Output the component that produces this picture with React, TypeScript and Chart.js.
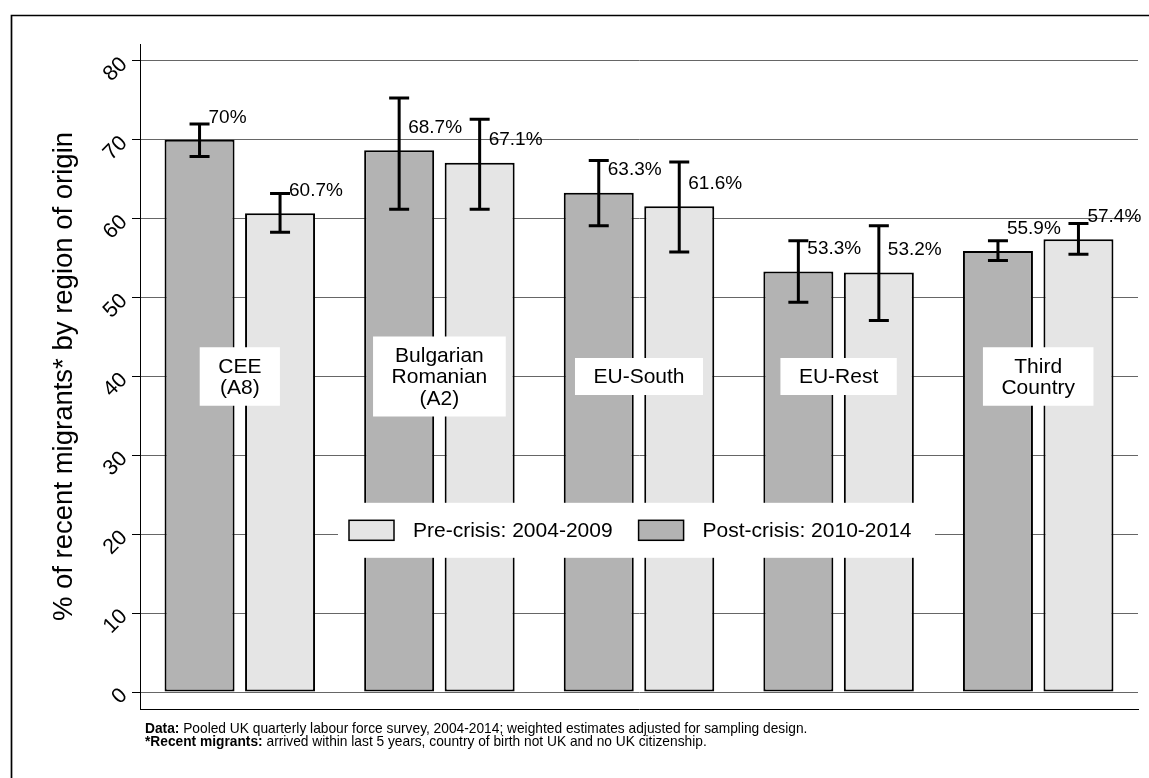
import React, { useEffect, useRef } from "react";
import { Chart, registerables } from "chart.js";

Chart.register(...registerables);

const FONT = '"Liberation Sans", Arial, Helvetica, sans-serif';

// ---- data ----
const categories = ["CEE (A8)", "Bulgarian Romanian (A2)", "EU-South", "EU-Rest", "Third Country"];
const categoryLines = [["CEE", "(A8)"], ["Bulgarian", "Romanian", "(A2)"], ["EU-South"], ["EU-Rest"], ["Third", "Country"]];

const postLabel = "Post-crisis: 2010-2014";
const postCrisis = [70, 68.7, 63.3, 53.3, 55.9];
const postLow = [67.9, 61.2, 59.1, 49.4, 54.7];
const postHigh = [72.0, 75.3, 67.4, 57.2, 57.2];

const preLabel = "Pre-crisis: 2004-2009";
const preCrisis = [60.7, 67.1, 61.6, 53.2, 57.4];
const preLow = [58.3, 61.2, 55.8, 47.1, 55.5];
const preHigh = [63.2, 72.6, 67.2, 59.1, 59.4];

const yTicks = [0, 10, 20, 30, 40, 50, 60, 70, 80];
const axisTitle = "% of recent migrants* by region of origin";
const footnotes = [
  ["Data:", " Pooled UK quarterly labour force survey, 2004-2014; weighted estimates adjusted for sampling design."],
  ["*Recent migrants:", " arrived within last 5 years, country of birth not UK and no UK citizenship."],
];

const DARK = "#b3b3b3";
const LIGHT = "#e5e5e5";

const overlayPlugin = {
  id: "overlay",
  beforeDraw(chart: any) {
    const ctx = chart.ctx;
    ctx.save();
    ctx.fillStyle = "#fff";
    ctx.fillRect(0, 0, chart.width, chart.height);
    ctx.restore();
  },
  afterDatasetsDraw(chart: any) {
    const ctx = chart.ctx;
    const xs = chart.scales.x;
    const ys = chart.scales.y;
    const area = chart.chartArea;
    const errs = [
      [postLow, postHigh],
      [preLow, preHigh],
    ];
    ctx.save();
    // error bars + value labels
    chart.data.datasets.forEach((ds: any, di: number) => {
      const meta = chart.getDatasetMeta(di);
      meta.data.forEach((bar: any, i: number) => {
        const cx = bar.x;
        const yl = ys.getPixelForValue(errs[di][0][i]);
        const yh = ys.getPixelForValue(errs[di][1][i]);
        ctx.strokeStyle = "#000";
        ctx.lineWidth = 3;
        ctx.lineCap = "butt";
        ctx.beginPath();
        ctx.moveTo(cx, yl);
        ctx.lineTo(cx, yh);
        ctx.moveTo(cx - 10, yl);
        ctx.lineTo(cx + 10, yl);
        ctx.moveTo(cx - 10, yh);
        ctx.lineTo(cx + 10, yh);
        ctx.stroke();
        ctx.font = `19px ${FONT}`;
        ctx.fillStyle = "#000";
        ctx.textAlign = "left";
        ctx.textBaseline = "middle";
        ctx.fillText(`${ds.data[i]}%`, cx + 9, bar.y - 22.5);
      });
    });

    // category label boxes
    ctx.font = `21px ${FONT}`;
    categoryLines.forEach((lines, i) => {
      const cx = xs.getPixelForValue(i);
      const cy = ys.getPixelForValue(40);
      const lh = 21.5;
      const w = Math.max(...lines.map((l) => ctx.measureText(l).width)) + 37;
      const h = lines.length * lh + 15.5;
      ctx.fillStyle = "#fff";
      ctx.fillRect(cx - w / 2, cy - h / 2, w, h);
      ctx.fillStyle = "#000";
      ctx.textAlign = "center";
      ctx.textBaseline = "middle";
      lines.forEach((l, k) => ctx.fillText(l, cx, cy - ((lines.length - 1) * lh) / 2 + k * lh + 1));
    });

    // legend
    const lcx = (area.left + area.right) / 2 - 2.5;
    const lcy = ys.getPixelForValue(20.5);
    const bw = 597;
    const bh = 55;
    ctx.fillStyle = "#fff";
    ctx.fillRect(lcx - bw / 2, lcy - bh / 2, bw, bh);
    let px = lcx - bw / 2 + 11;
    ctx.font = `21px ${FONT}`;
    [1, 0].forEach((di) => {
      const ds = chart.data.datasets[di];
      ctx.fillStyle = ds.backgroundColor;
      ctx.fillRect(px, lcy - 10, 45, 20);
      ctx.strokeStyle = "#000";
      ctx.lineWidth = 1.5;
      ctx.strokeRect(px, lcy - 10, 45, 20);
      px += 45 + 19;
      ctx.fillStyle = "#000";
      ctx.textAlign = "left";
      ctx.textBaseline = "middle";
      ctx.fillText(ds.label, px, lcy + 1);
      px += ctx.measureText(ds.label).width + 26;
    });
    ctx.restore();
  },
  afterDraw(chart: any) {
    const ctx = chart.ctx;
    ctx.save();
    // footnotes
    ctx.textAlign = "left";
    ctx.textBaseline = "middle";
    ctx.fillStyle = "#000";
    footnotes.forEach(([b, rest], k) => {
      const y = 729 + k * 13;
      ctx.font = `bold 13.75px ${FONT}`;
      ctx.fillText(b, 145, y);
      const w = ctx.measureText(b).width;
      ctx.font = `13.75px ${FONT}`;
      ctx.fillText(rest, 145 + w, y);
    });
    // outer frame (cropped on right and bottom)
    ctx.strokeStyle = "#000";
    ctx.lineWidth = 1.7;
    ctx.beginPath();
    ctx.moveTo(11.5, chart.height + 10);
    ctx.lineTo(11.5, 15.5);
    ctx.lineTo(chart.width + 10, 15.5);
    ctx.stroke();
    ctx.restore();
  },
};

export default function App() {
  const canvasRef = useRef<HTMLCanvasElement | null>(null);

  useEffect(() => {
    const canvas = canvasRef.current;
    if (!canvas) return;
    const chart = new Chart(canvas, {
      type: "bar",
      data: {
        labels: categories,
        datasets: [
          {
            label: postLabel,
            data: postCrisis,
            backgroundColor: DARK,
            borderColor: "#000",
            borderWidth: 2,
            borderSkipped: false,
          },
          {
            label: preLabel,
            data: preCrisis,
            backgroundColor: LIGHT,
            borderColor: "#000",
            borderWidth: 2,
            borderSkipped: false,
          },
        ],
      },
      options: {
        animation: false,
        responsive: false,
        maintainAspectRatio: false,
        events: [],
        layout: { padding: { top: 44, right: 11, bottom: 69, left: 0 } },
        datasets: { bar: { categoryPercentage: 0.8066, barPercentage: 0.8696 } },
        plugins: { legend: { display: false }, tooltip: { enabled: false } },
        scales: {
          x: {
            type: "category",
            offset: true,
            grid: { display: false, drawTicks: false },
            ticks: { display: false },
            border: { display: true, color: "#000", width: 1 },
            afterFit: (s: any) => {
              s.height = 0;
            },
          },
          y: {
            min: -2.155,
            max: 82.155,
            afterBuildTicks: (s: any) => {
              s.ticks = yTicks.map((v) => ({ value: v }));
            },
            afterFit: (s: any) => {
              s.width = 140;
            },
            grid: {
              color: "#666",
              lineWidth: 1,
              drawTicks: true,
              tickLength: 8,
              tickColor: "#000",
              tickWidth: 1,
            },
            border: { display: true, color: "#000", width: 1 },
            ticks: {
              minRotation: 45,
              maxRotation: 45,
              padding: 8,
              color: "#000",
              font: { family: FONT, size: 21.5 },
              callback: (v: any) => String(v),
            },
            title: {
              display: true,
              text: axisTitle,
              color: "#000",
              font: { family: FONT, size: 27.5, lineHeight: 1.2 },
              padding: { top: 47.5, bottom: 0 },
            },
          },
        },
      },
      plugins: [overlayPlugin],
    } as any);
    return () => chart.destroy();
  }, []);

  return (
    <div style={{ position: "fixed", left: 0, top: 0, width: 1149, height: 778, background: "#fff" }}>
      <canvas ref={canvasRef} width={1149} height={778} style={{ display: "block" }} />
    </div>
  );
}
